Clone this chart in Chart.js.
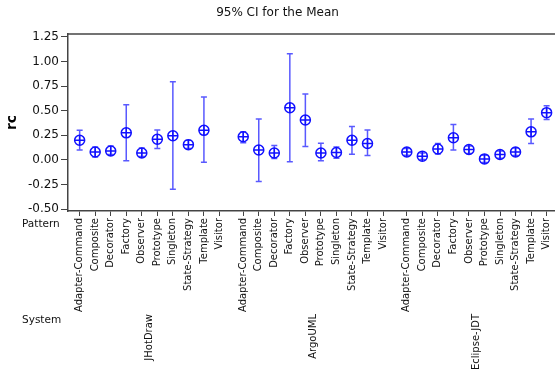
<!DOCTYPE html>
<html lang="en">
<head>
  <meta charset="UTF-8">
  <title>95% CI for the Mean</title>
  <style>
    html, body { margin: 0; padding: 0; background: #fff; }
    .box { width: 555px; height: 373px; }
  </style>
</head>
<body>
<div class="box">
  <canvas id="ciChart" width="555" height="373"></canvas>
</div>

<script src="https://cdn.jsdelivr.net/npm/chart.js"></script>

<script>
  const patterns = ['Adapter-Command', 'Composite', 'Decorator', 'Factory', 'Observer',
    'Prototype', 'Singleton', 'State-Strategy', 'Template', 'Visitor'];
  const systems = ['JHotDraw', 'ArgoUML', 'Eclipse-JDT'];

  // mean rc and 95% CI bounds, one array per system (null = no data)
  const jhotdrawMean = [0.20, 0.08, 0.09, 0.275, 0.07, 0.21, 0.245, 0.155, 0.30, null];
  const jhotdrawLow  = [0.10, 0.03, 0.055, -0.01, 0.035, 0.115, -0.30, 0.115, -0.025, null];
  const jhotdrawHigh = [0.30, 0.13, 0.14, 0.56, 0.12, 0.305, 0.795, 0.20, 0.64, null];

  const argoMean = [0.235, 0.10, 0.07, 0.53, 0.405, 0.07, 0.075, 0.20, 0.167, null];
  const argoLow  = [0.175, -0.22, 0.015, -0.02, 0.135, -0.01, 0.017, 0.058, 0.045, null];
  const argoHigh = [0.285, 0.415, 0.145, 1.08, 0.67, 0.17, 0.13, 0.34, 0.305, null];

  const eclipseMean = [0.08, 0.038, 0.11, 0.225, 0.105, 0.01, 0.055, 0.08, 0.285, 0.48];
  const eclipseLow  = [0.048, 0.004, 0.06, 0.10, 0.065, -0.027, 0.017, 0.045, 0.167, 0.41];
  const eclipseHigh = [0.115, 0.07, 0.167, 0.36, 0.14, 0.048, 0.09, 0.12, 0.415, 0.55];

  const yTicks = [-0.5, -0.25, 0, 0.25, 0.5, 0.75, 1.0, 1.25];

  const means = [jhotdrawMean, argoMean, eclipseMean];
  const lows = [jhotdrawLow, argoLow, eclipseLow];
  const highs = [jhotdrawHigh, argoHigh, eclipseHigh];

  const groupStep = 10.53;   // spacing between system groups on the x scale
  const positions = [];
  systems.forEach((s, g) => patterns.forEach((p, i) => positions.push(g * groupStep + i)));

  const points = [];
  const bars = [];
  systems.forEach((s, g) => {
    patterns.forEach((p, i) => {
      if (means[g][i] === null) return;
      const x = g * groupStep + i;
      points.push({ x: x, y: means[g][i] });
      bars.push({ x: x, lo: lows[g][i], hi: highs[g][i] });
    });
  });

  const FONT = 'DejaVu Sans';
  const BLUE = '#1010ff';

  const errorBars = {
    id: 'errorBars',
    beforeDatasetsDraw(chart) {
      const ctx = chart.ctx;
      const xs = chart.scales.x, ys = chart.scales.y;
      ctx.save();
      ctx.strokeStyle = 'rgba(60,60,255,0.85)';
      ctx.lineWidth = 1.5;
      bars.forEach(b => {
        const px = xs.getPixelForValue(b.x);
        const y1 = ys.getPixelForValue(b.lo);
        const y2 = ys.getPixelForValue(b.hi);
        ctx.beginPath();
        ctx.moveTo(px, y1); ctx.lineTo(px, y2);
        ctx.moveTo(px - 3, y1); ctx.lineTo(px + 3, y1);
        ctx.moveTo(px - 3, y2); ctx.lineTo(px + 3, y2);
        ctx.stroke();
      });
      ctx.restore();
    }
  };

  const decorations = {
    id: 'decorations',
    afterDraw(chart) {
      const ctx = chart.ctx;
      const area = chart.chartArea;
      const xs = chart.scales.x;
      ctx.save();
      // top frame line
      ctx.strokeStyle = '#444';
      ctx.lineWidth = 1.5;
      ctx.beginPath();
      ctx.moveTo(area.left, area.top);
      ctx.lineTo(chart.width, area.top);
      ctx.stroke();

      ctx.fillStyle = '#111';
      ctx.font = '10.5px "' + FONT + '"';
      ctx.textBaseline = 'middle';
      ctx.textAlign = 'left';
      ctx.fillText('Pattern', 22, 224);
      ctx.fillText('System', 22, 320);

      ctx.font = '10px "' + FONT + '"';
      systems.forEach((s, g) => {
        const px = xs.getPixelForValue(g * groupStep + 4.5);
        ctx.save();
        ctx.translate(px, 314);
        ctx.rotate(-Math.PI / 2);
        ctx.textAlign = 'right';
        ctx.fillText(s, 0, 0);
        ctx.restore();
      });
      ctx.restore();
    }
  };

  new Chart(document.getElementById('ciChart'), {
    type: 'scatter',
    data: {
      datasets: [
        {
          data: points,
          pointStyle: 'circle',
          pointRadius: 5,
          pointHoverRadius: 5,
          borderColor: BLUE,
          backgroundColor: 'rgba(0,0,0,0)',
          borderWidth: 1.5
        },
        {
          data: points,
          pointStyle: 'cross',
          pointRadius: 5,
          pointHoverRadius: 5,
          borderColor: BLUE,
          borderWidth: 1.5
        }
      ]
    },
    options: {
      responsive: false,
      animation: false,
      layout: { padding: 0, autoPadding: false },
      plugins: {
        legend: { display: false },
        tooltip: { enabled: false },
        title: {
          display: true,
          text: '95% CI for the Mean',
          color: '#111',
          font: { family: FONT, size: 12, weight: 'normal' },
          padding: { top: 6, bottom: 13.6 }
        }
      },
      scales: {
        x: {
          type: 'linear',
          min: -0.75,
          max: 30.6,
          afterBuildTicks: axis => { axis.ticks = positions.map(v => ({ value: v })); },
          afterFit: axis => { axis.height = 162; axis.paddingLeft = 0; axis.paddingRight = 0; },
          grid: { drawOnChartArea: false, drawTicks: true, tickLength: 5, color: '#444' },
          border: { color: '#444', width: 1.5 },
          ticks: {
            autoSkip: false,
            minRotation: 90,
            maxRotation: 90,
            padding: 2,
            color: '#111',
            font: { family: FONT, size: 10 },
            callback: (v, i) => patterns[i % patterns.length]
          }
        },
        y: {
          min: -0.52,
          max: 1.28,
          afterBuildTicks: axis => { axis.ticks = yTicks.map(v => ({ value: v })); },
          afterFit: axis => { axis.width = 68; },
          grid: { drawOnChartArea: false, drawTicks: true, tickLength: 7, color: '#444' },
          border: { color: '#444', width: 1.5 },
          ticks: {
            padding: 2,
            color: '#111',
            font: { family: FONT, size: 12 },
            callback: v => v.toFixed(2)
          },
          title: {
            display: true,
            text: 'rc',
            color: '#000',
            font: { family: FONT, size: 14, weight: 'bold' },
            padding: { top: 4, bottom: 4 }
          }
        }
      }
    },
    plugins: [errorBars, decorations]
  });
</script>
</body>
</html>
